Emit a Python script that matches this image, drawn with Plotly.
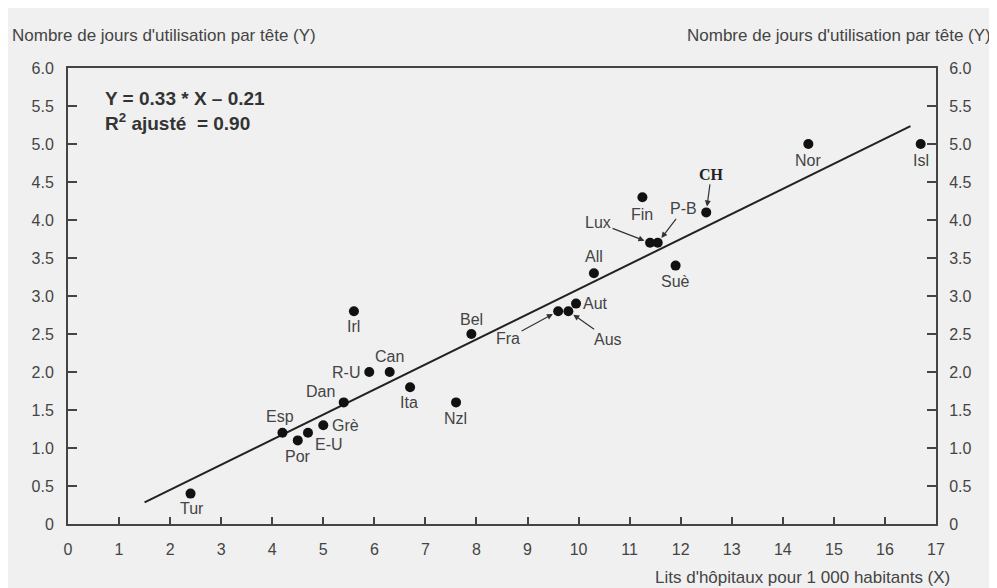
import plotly.graph_objects as go

# Data
countries = ["Tur", "Esp", "Por", "E-U", "Grè", "Dan", "R-U", "Can", "Ita", "Nzl", "Irl", "Bel",
             "Fra", "Aus", "Aut", "All", "Lux", "P-B", "Fin", "CH", "Suè", "Nor", "Isl"]
beds = [2.4, 4.2, 4.5, 4.7, 5.0, 5.4, 5.9, 6.3, 6.7, 7.6, 5.6, 7.9,
        9.6, 9.8, 9.95, 10.3, 11.4, 11.55, 11.25, 12.5, 11.9, 14.5, 16.7]
days = [0.4, 1.2, 1.1, 1.2, 1.3, 1.6, 2.0, 2.0, 1.8, 1.6, 2.8, 2.5,
        2.8, 2.8, 2.9, 3.3, 3.7, 3.7, 4.3, 4.1, 3.4, 5.0, 5.0]
slope = 0.33
intercept = -0.21
fit_x = [1.5, 16.5]
x_ticks = list(range(0, 18))
y_ticks = [0, 0.5, 1.0, 1.5, 2.0, 2.5, 3.0, 3.5, 4.0, 4.5, 5.0, 5.5, 6.0]
y_tick_text = ["0", "0.5", "1.0", "1.5", "2.0", "2.5", "3.0", "3.5", "4.0", "4.5", "5.0", "5.5", "6.0"]

# label offsets in pixels (dx, dy screen) - style only
offsets = {
    "Tur": (1, 15), "Esp": (-2, -16), "Por": (0, 16), "E-U": (21, 12), "Grè": (22, 0),
    "Dan": (-23, -11), "R-U": (-23, 0), "Can": (0, -16), "Ita": (-1, 15), "Nzl": (-1, 16),
    "Irl": (0, 15), "Bel": (0, -15), "Aut": (19, 0), "All": (0, -17), "Fin": (0, 17),
    "Suè": (0, 16), "Nor": (0, 16), "Isl": (0, 16),
}
arrows = {"Fra": (-50, 27), "Aus": (40, 28), "Lux": (-52, -20), "P-B": (26, -34), "CH": (5, -38)}

fit_y = [slope * v + intercept for v in fit_x]

FONT = "Liberation Sans, Arial, sans-serif"

fig = go.Figure()
fig.add_trace(go.Scatter(x=fit_x, y=fit_y, mode="lines", line=dict(color="#222222", width=2),
                         showlegend=False, hoverinfo="skip"))
fig.add_trace(go.Scatter(x=beds, y=days, mode="markers", text=countries,
                         marker=dict(color="#111111", size=10), showlegend=False))
# dummy for right axis
fig.add_trace(go.Scatter(x=[None], y=[None], yaxis="y2", showlegend=False))

label_font = dict(family=FONT, size=16, color="#444444")
annotations = []
for name, xv, yv in zip(countries, beds, days):
    if name in arrows:
        ax, ay = arrows[name]
        if name == "CH":
            f = dict(family="Liberation Serif, Times New Roman, serif", size=16, color="#222222")
            txt = "<b>CH</b>"
        else:
            f = label_font
            txt = name
        annotations.append(dict(x=xv, y=yv, xref="x", yref="y", text=txt, showarrow=True,
                                ax=ax, ay=ay, arrowhead=2, arrowsize=1, arrowwidth=1.2,
                                arrowcolor="#333333", standoff=6, font=f))
    else:
        dx, dy = offsets[name]
        annotations.append(dict(x=xv, y=yv, xref="x", yref="y", text=name, showarrow=False,
                                xshift=dx, yshift=-dy, font=label_font))

annotations += [
    dict(x=0.0403, y=0.934, xref="paper", yref="paper", xanchor="left", yanchor="middle",
         text="<b>Y = 0.33 * X – 0.21</b>", showarrow=False,
         font=dict(family=FONT, size=19, color="#333333")),
    dict(x=0.0403, y=0.882, xref="paper", yref="paper", xanchor="left", yanchor="middle",
         text="<b>R<sup>2</sup> ajusté  = 0.90</b>", showarrow=False,
         font=dict(family=FONT, size=19, color="#333333")),
    dict(x=-0.067, y=1.072, xref="paper", yref="paper", xanchor="left", yanchor="middle",
         text="Nombre de jours d'utilisation par tête (Y)", showarrow=False,
         font=dict(family=FONT, size=17, color="#444444")),
    dict(x=1.066, y=1.072, xref="paper", yref="paper", xanchor="right", yanchor="middle",
         text="Nombre de jours d'utilisation par tête (Y)", showarrow=False,
         font=dict(family=FONT, size=17, color="#444444")),
    dict(x=1.0184, y=-0.118, xref="paper", yref="paper", xanchor="right", yanchor="middle",
         text="Lits d'hôpitaux pour 1 000 habitants (X)", showarrow=False,
         font=dict(family=FONT, size=17, color="#444444")),
]

tick_font = dict(family=FONT, size=16, color="#444444")
axis_common = dict(showgrid=False, zeroline=False, showline=True, linecolor="#444444", linewidth=2,
                   tickcolor="#444444", tickwidth=1.5, tickfont=tick_font, ticks="inside")
fig.update_layout(
    width=989, height=580,
    margin=dict(l=60, r=61, t=60, b=64),
    paper_bgcolor="#f0f0f0", plot_bgcolor="#f0f0f0",
    xaxis=dict(range=[0, 17], tickvals=x_ticks, ticklen=7, mirror=True,
               ticklabelstandoff=10, **axis_common),
    yaxis=dict(range=[0, 6], tickvals=y_ticks, ticktext=y_tick_text, ticklen=9,
               ticklabelstandoff=9, **axis_common),
    yaxis2=dict(range=[0, 6], tickvals=y_ticks, ticktext=y_tick_text, ticklen=9,
                overlaying="y", side="right", ticklabelstandoff=8, **axis_common),
    annotations=annotations,
    font=dict(family=FONT),
)

fig.write_html("out.html")
